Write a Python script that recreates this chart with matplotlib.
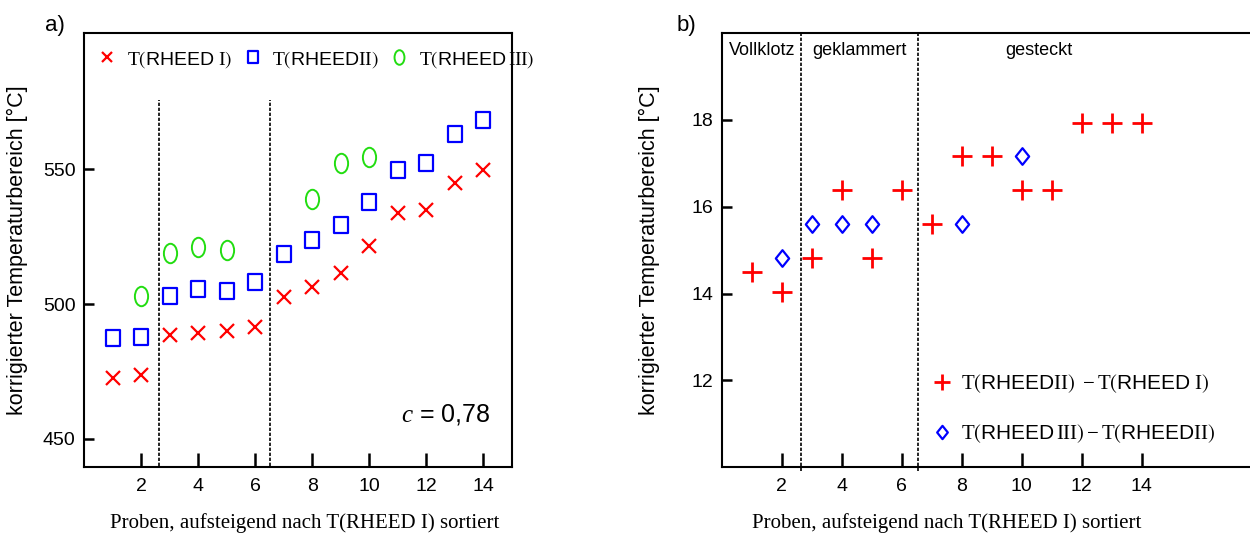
import numpy as np
import matplotlib
matplotlib.use("Agg")
import matplotlib.pyplot as plt
from matplotlib.path import Path
from matplotlib.transforms import Affine2D

plt.rcParams['font.family'] = ['Liberation Sans', 'DejaVu Sans']
plt.rcParams['mathtext.fontset'] = 'custom'
plt.rcParams['mathtext.rm'] = 'Liberation Serif'
plt.rcParams['mathtext.sf'] = 'Liberation Sans'
plt.rcParams['mathtext.it'] = 'Liberation Serif:italic'
plt.rcParams['mathtext.fallback'] = 'stix'

# data, panel a)
proben = [1, 2, 3, 4, 5, 6, 7, 8, 9, 10, 11, 12, 13, 14]
t_rheed1 = [472.6, 473.8, 488.5, 489.1, 489.9, 491.6, 502.5, 506.2, 511.7, 521.6, 533.6, 534.8, 544.8, 549.6]
t_rheed2 = [487.3, 487.7, 503.1, 505.6, 504.8, 508.0, 518.5, 523.8, 529.4, 537.8, 549.6, 552.1, 562.9, 568.1]
proben3 = [2, 3, 4, 5, 8, 9, 10]
t_rheed3 = [502.9, 518.8, 521.0, 520.0, 538.8, 552.1, 554.6]

# data, panel b)
diff21 = [14.5, 14.04, 14.82, 16.38, 14.82, 16.38, 15.6, 17.16, 17.16, 16.38, 16.38, 17.94, 17.94, 17.94]
proben32 = [2, 3, 4, 5, 8, 10]
diff32 = [14.82, 15.6, 15.6, 15.6, 15.6, 17.16]

groups = ["Vollklotz", "geklammert", "gesteckt"]
group_pos = [1.33, 4.6, 10.57]
grenzen = [2.62, 6.53]

# tall markers like in the original
ellipse = Path.unit_circle().transformed(Affine2D().scale(0.68, 1.0))
rect = Path([(-0.8, -1), (0.8, -1), (0.8, 1), (-0.8, 1), (-0.8, -1)],
            [Path.MOVETO, Path.LINETO, Path.LINETO, Path.LINETO, Path.CLOSEPOLY])
raute = Path([(0, -1), (0.8, 0), (0, 1), (-0.8, 0), (0, -1)],
             [Path.MOVETO, Path.LINETO, Path.LINETO, Path.LINETO, Path.CLOSEPOLY])

def tl(inner):
    return r'\mathrm{T}\left(' + inner + r'\right)'

r1 = r'\mathsf{RHEED}\ \mathrm{I}'
r2 = r'\mathsf{RHEED}\mathrm{II}'
r3 = r'\mathsf{RHEED}\,\mathrm{III}'
lab1 = '$' + tl(r1) + '$'
lab2 = '$' + tl(r2) + '$'
lab3 = '$' + tl(r3) + '$'
lab21 = '$' + tl(r2) + r'\ -' + tl(r1) + '$'
lab32 = '$' + tl(r3) + '-' + tl(r2) + '$'
xlab = "Proben, aufsteigend nach T(RHEED I) sortiert"
ylab = "korrigierter Temperaturbereich [°C]"

fig = plt.figure(figsize=(12.5, 5.35), dpi=100)
ax1 = fig.add_axes([0.0672, 0.127, 0.3424, 0.811])
ax2 = fig.add_axes([0.5776, 0.127, 0.4224, 0.811])

for ax in (ax1, ax2):
    for s in ax.spines.values():
        s.set_linewidth(1.5)
    ax.tick_params(direction='in', labelsize=14, width=1.8)
    ax.tick_params(axis='x', length=10, pad=8)
    ax.tick_params(axis='y', length=7, pad=6)
    ax.set_xticks([2, 4, 6, 8, 10, 12, 14])

# a)
ax1.plot(proben, t_rheed1, ls='none', marker='x', ms=10, mew=1.6, color='red', label=lab1)
ax1.plot(proben, t_rheed2, ls='none', marker=rect, ms=12, mew=1.6, mfc='none', mec='blue', label=lab2)
ax1.plot(proben3, t_rheed3, ls='none', marker=ellipse, ms=14, mew=1.4, mfc='none', mec='#22dd11', label=lab3)
for g in grenzen:
    ax1.plot([g, g], [440, 575.5], color='black', lw=1.2, ls=(0, (2, 1)))
ax1.set_xlim(0, 15)
ax1.set_ylim(439.6, 600.4)
ax1.set_yticks([450, 500, 550])
ax1.text(11.1, 459, r'$c$ = 0,78', fontsize=18, va='center')
ax1.legend(loc='upper left', ncol=3, frameon=False, fontsize=14, handlelength=0.8,
           handletextpad=0.6, columnspacing=0.65, markerscale=0.75,
           bbox_to_anchor=(0.0, 1.0), borderaxespad=0.4)
ax1.set_xlabel(xlab, family='Liberation Serif', fontsize=15)
ax1.set_ylabel(ylab, fontsize=15.5)
ax1.xaxis.set_label_coords(0.516, -0.105)
ax1.yaxis.set_label_coords(-0.131, 0.5)
fig.text(0.036, 0.953, "a)", fontsize=16, va='center')

# b)
ax2.plot(proben, diff21, ls='none', marker='+', ms=14, mew=2, color='red', label=lab21)
ax2.plot(proben32, diff32, ls='none', marker=raute, ms=12, mew=1.6, mfc='none', mec='blue', label=lab32)
for g in grenzen:
    ax2.plot([g, g], [9.9, 20], color='black', lw=1.2, ls=(0, (2, 1)), clip_on=False)
for name, p in zip(groups, group_pos):
    ax2.text(p, 19.6, name, fontsize=13, ha='center', va='center')
ax2.set_xlim(0, 17.62)
ax2.set_ylim(10, 20)
ax2.set_yticks([12, 14, 16, 18])
ax2.spines['right'].set_visible(False)
ax2.legend(loc='lower left', bbox_to_anchor=(0.365, 0.008), frameon=False, fontsize=15,
           handlelength=0.8, handletextpad=0.5, labelspacing=1.3, markerscale=0.8)
ax2.set_xlabel(xlab, family='Liberation Serif', fontsize=15)
ax2.set_ylabel(ylab, fontsize=15.5)
ax2.xaxis.set_label_coords(0.425, -0.105)
ax2.yaxis.set_label_coords(-0.117, 0.5)
fig.text(0.541, 0.953, "b)", fontsize=16, va='center')

fig.savefig("out.png", dpi=100)
